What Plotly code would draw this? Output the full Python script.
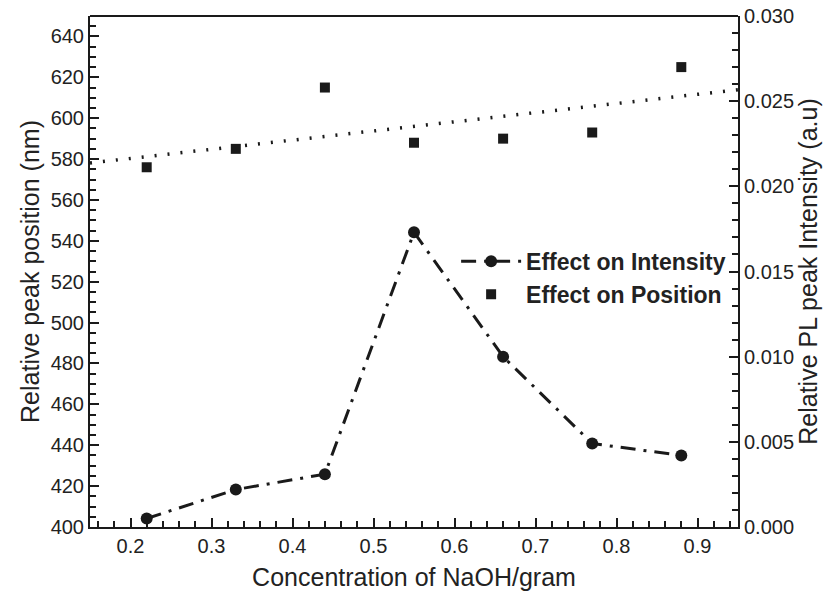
import numpy as np
import plotly.graph_objects as go

conc = [0.22, 0.33, 0.44, 0.55, 0.66, 0.77, 0.88]
position = [576, 585, 615, 588, 590, 593, 625]
intensity = [0.0005, 0.0022, 0.0031, 0.0173, 0.0100, 0.0049, 0.0042]

x_range = [0.15, 0.95]
left_range = [400, 650]
right_range = [0.0, 0.030]

slope, intercept = np.polyfit(conc, position, 1)
fit_x = x_range
fit_y = [slope * v + intercept for v in fit_x]

font = "Liberation Sans, Arial, sans-serif"
ink = "#1a1a1a"

fig = go.Figure()
fig.add_trace(go.Scatter(x=fit_x, y=fit_y, mode="lines",
                         line=dict(color=ink, width=3.5, dash="2px,11px"),
                         showlegend=False, hoverinfo="skip"))
fig.add_trace(go.Scatter(x=conc, y=intensity, yaxis="y2", mode="lines+markers",
                         name="Effect on Intensity",
                         line=dict(color=ink, width=3, dash="15px,8px,3px,8px"),
                         marker=dict(symbol="circle", size=12, color=ink)))
fig.add_trace(go.Scatter(x=conc, y=position, mode="markers",
                         name="Effect on Position",
                         marker=dict(symbol="square", size=10, color=ink)))

axis_common = dict(showline=True, linecolor=ink, linewidth=2, mirror=False,
                   ticks="inside", ticklen=9, tickwidth=2, tickcolor=ink,
                   showgrid=False, zeroline=False, automargin=False,
                   tickfont=dict(family=font, size=20, color="#222"),
                   minor=dict(ticks="inside", ticklen=6, tickwidth=1.5, tickcolor=ink))

title_font = dict(family=font, size=25, color="#222")

fig.update_layout(
    width=833, height=598,
    margin=dict(l=90, r=95, t=16, b=71),
    paper_bgcolor="white", plot_bgcolor="white",
    font=dict(family=font, color="#222"),
    xaxis=dict(range=x_range, dtick=0.1, tick0=0.2, **axis_common,
               title=dict(text="Concentration of NaOH/gram", font=title_font, standoff=12)),
    yaxis=dict(range=left_range, dtick=20, tick0=400, **axis_common,
               title=dict(text="Relative peak position (nm)", font=title_font, standoff=4)),
    yaxis2=dict(range=right_range, dtick=0.005, tickformat=".3f", overlaying="y",
                side="right", **axis_common,
                title=dict(text="Relative PL peak Intensity (a.u)", font=title_font, standoff=6)),
    legend=dict(x=0.565, y=0.562, xanchor="left", yanchor="top",
                bgcolor="rgba(0,0,0,0)",
                font=dict(family=font, size=23, color="#222", weight="bold"),
                itemwidth=60, tracegroupgap=0),
    showlegend=True,
)
fig.add_shape(type="line", xref="paper", yref="paper", x0=0, x1=1, y0=1, y1=1,
              line=dict(color=ink, width=2))

fig.write_html("out.html")
